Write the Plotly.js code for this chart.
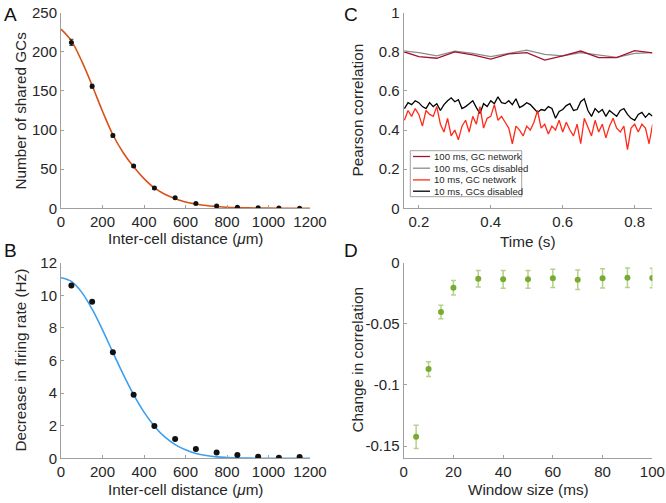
<!DOCTYPE html>
<html>
<head>
<meta charset="utf-8">
<script src="https://cdn.plot.ly/plotly-3.0.1.min.js"></script>
<style>html,body{margin:0;padding:0;background:#fff;}#chart{width:666px;height:503px;}</style>
</head>
<body>
<div id="chart"></div>
<script>
// ---------- Panel A: shared GCs vs distance ----------
const distPts = [50,150,250,350,450,550,650,750,850,950,1050,1150];
const sharedGCs = [212,156,93,54,26,13.5,6,3,1.5,0.6,0.4,0.2];
const sharedErr = [4,2.5,2,1.5,1.5,1.2,1,1,0.8,0.5,0.5,0.5];
const fitDist = [0,50,100,150,200,250,300,350,400,450,500,550,600,650,700,750,800,850,900,950,1000,1050,1100,1150,1200];
const sharedFit = [229,214,188,157,124,94,71,53,38,26,18,12.5,8,5.5,3.5,2.3,1.4,0.9,0.5,0.3,0.2,0.1,0.05,0.02,0];

// ---------- Panel B: decrease in firing rate ----------
const rateDec = [10.6,9.6,6.5,3.9,1.98,1.19,0.57,0.35,0.2,0.1,0.04,0.08];
const rateFit = [11.08,10.85,10.18,9.15,7.88,6.5,5.15,3.9,2.83,1.97,1.31,0.84,0.52,0.3,0.17,0.09,0.05,0.02,0.01,0,0,0,0,0,0];

// ---------- Panel C: Pearson correlation over time ----------
const time100 = [0.15,0.2,0.25,0.3,0.35,0.4,0.45,0.5,0.55,0.6,0.65,0.7,0.75,0.8,0.85];
const corr100GC = [0.805,0.775,0.767,0.80,0.784,0.763,0.789,0.796,0.758,0.779,0.804,0.77,0.77,0.806,0.795];
const corr100Dis = [0.806,0.796,0.779,0.804,0.792,0.775,0.792,0.809,0.787,0.779,0.796,0.784,0.772,0.792,0.796];
const time10 = [0.16,0.17,0.18,0.19,0.20,0.21,0.22,0.23,0.24,0.25,0.26,0.27,0.28,0.29,0.30,0.31,0.32,0.33,0.34,0.35,
  0.36,0.37,0.38,0.39,0.40,0.41,0.42,0.43,0.44,0.45,0.46,0.47,0.48,0.49,0.50,0.51,0.52,0.53,0.54,0.55,
  0.56,0.57,0.58,0.59,0.60,0.61,0.62,0.63,0.64,0.65,0.66,0.67,0.68,0.69,0.70,0.71,0.72,0.73,0.74,0.75,
  0.76,0.77,0.78,0.79,0.80,0.81,0.82,0.83,0.84,0.85];
const corr10Dis = [0.51,0.54,0.53,0.55,0.54,0.52,0.51,0.54,0.52,0.535,0.50,0.53,0.55,0.565,0.545,0.555,0.51,0.52,0.535,0.55,
  0.515,0.485,0.535,0.52,0.55,0.535,0.57,0.54,0.535,0.55,0.53,0.56,0.515,0.525,0.54,0.53,0.51,0.49,0.505,0.50,
  0.52,0.51,0.46,0.495,0.505,0.525,0.535,0.50,0.505,0.545,0.56,0.50,0.47,0.51,0.49,0.505,0.47,0.50,0.485,0.47,
  0.50,0.51,0.48,0.46,0.45,0.48,0.49,0.465,0.485,0.47];
const corr10GC = [0.45,0.50,0.47,0.51,0.48,0.42,0.50,0.48,0.47,0.52,0.43,0.39,0.46,0.37,0.40,0.35,0.42,0.45,0.39,0.47,
  0.43,0.52,0.41,0.46,0.47,0.53,0.45,0.47,0.44,0.41,0.33,0.42,0.40,0.37,0.42,0.40,0.44,0.50,0.41,0.43,
  0.38,0.42,0.40,0.45,0.39,0.44,0.40,0.37,0.43,0.33,0.46,0.41,0.37,0.45,0.39,0.43,0.36,0.42,0.46,0.41,
  0.39,0.42,0.30,0.41,0.43,0.39,0.43,0.41,0.33,0.43];
const legendLabels = ["100 ms, GC network","100 ms, GCs disabled","10 ms, GC network","10 ms, GCs disabled"];

// ---------- Panel D: change in correlation ----------
const windowSize = [5,10,15,20,30,40,50,60,70,80,90,100];
const corrChange = [-0.1424,-0.087,-0.0404,-0.0205,-0.0131,-0.0136,-0.0136,-0.0128,-0.0139,-0.0128,-0.0123,-0.0125];
const corrChangeErr = [0.0095,0.006,0.0055,0.006,0.0067,0.0072,0.0072,0.0075,0.008,0.0078,0.008,0.008];

// ---------- styling ----------
const W = 666, H = 503;
const FONT = "Liberation Sans, Arial, Helvetica, sans-serif";
const TXT = "#262626";
const AXC = "#a0a0a0";
const colA = "#D95319", colB = "#3c9ff0", colD = "#77AC30";
const colC = ["#A2142F", "#8c8c8c", "#ff2a1a", "#000000"];
const px = v => v / W;
const py = v => 1 - v / H;

const leftDom = [px(61), px(310)];
const rightDom = [px(403.7), px(652.3)];
const topDom = [py(208.3), py(12.7)];
const botDom = [py(458.3), py(262.7)];

function axis(extra) {
  return Object.assign({
    showgrid: false, zeroline: false, showline: true, linecolor: AXC, linewidth: 1,
    ticks: "inside", ticklen: 3, tickcolor: AXC, tickwidth: 1,
    tickfont: {family: FONT, size: 15, color: TXT}, automargin: false, fixedrange: true
  }, extra);
}

const traces = [
  {x: fitDist, y: sharedFit, xaxis: "x", yaxis: "y", mode: "lines", line: {color: colA, width: 1.6, shape: "spline"}, showlegend: false, hoverinfo: "skip"},
  {x: distPts, y: sharedGCs, xaxis: "x", yaxis: "y", mode: "markers", marker: {color: "#111", size: 5},
   error_y: {type: "data", array: sharedErr, visible: true, color: "#333", thickness: 1, width: 2}, showlegend: false},
  {x: fitDist, y: rateFit, xaxis: "x3", yaxis: "y3", mode: "lines", line: {color: colB, width: 1.6, shape: "spline"}, showlegend: false},
  {x: distPts, y: rateDec, xaxis: "x3", yaxis: "y3", mode: "markers", marker: {color: "#111", size: 6}, showlegend: false},
  {x: time10, y: corr10Dis, xaxis: "x2", yaxis: "y2", mode: "lines", line: {color: colC[3], width: 1.3}, showlegend: false},
  {x: time10, y: corr10GC, xaxis: "x2", yaxis: "y2", mode: "lines", line: {color: colC[2], width: 1.3}, showlegend: false},
  {x: time100, y: corr100Dis, xaxis: "x2", yaxis: "y2", mode: "lines", line: {color: colC[1], width: 1.3}, showlegend: false},
  {x: time100, y: corr100GC, xaxis: "x2", yaxis: "y2", mode: "lines", line: {color: colC[0], width: 1.3}, showlegend: false},
  {x: windowSize, y: corrChange, xaxis: "x4", yaxis: "y4", mode: "markers", marker: {color: colD, size: 6},
   error_y: {type: "data", array: corrChangeErr, visible: true, color: "rgba(119,172,48,0.55)", thickness: 1.5, width: 2.5}, showlegend: false}
];

// manual legend for panel C
const legBox = {x0: 410.3, x1: 521.7, y0: 150.7, y1: 196.7};
const legRows = [156.5, 168.2, 179.9, 191.2];
const shapes = [{type: "rect", xref: "paper", yref: "paper", x0: px(legBox.x0), x1: px(legBox.x1), y0: py(legBox.y1), y1: py(legBox.y0),
  line: {color: "#8a8a8a", width: 0.8}, fillcolor: "#ffffff", layer: "above"}];
const annotations = [];
legendLabels.forEach((lab, i) => {
  shapes.push({type: "line", xref: "paper", yref: "paper", x0: px(413), x1: px(430), y0: py(legRows[i]), y1: py(legRows[i]),
    line: {color: colC[i], width: 1.3}, layer: "above"});
  annotations.push({xref: "paper", yref: "paper", x: px(431.5), y: py(legRows[i]), xanchor: "left", yanchor: "middle",
    text: lab, showarrow: false, font: {family: FONT, size: 9.6, color: TXT}});
});

function label(text, x, y, size, angle) {
  annotations.push({xref: "paper", yref: "paper", x: px(x), y: py(y), xanchor: "center", yanchor: "middle",
    text: text, showarrow: false, textangle: angle || 0, font: {family: FONT, size: size, color: angle === undefined ? "#111" : TXT}});
}
// panel letters
label("A", 10, 14, 19);
label("B", 10, 250, 19);
label("C", 351, 14, 19);
label("D", 351, 250, 19);
// axis titles
label("Inter-cell distance (<i>μ</i>m)", 185.5, 239, 15.3, 0);
label("Number of shared GCs", 20, 110.5, 15.3, -90);
label("Inter-cell distance (<i>μ</i>m)", 185.5, 489, 15.3, 0);
label("Decrease in firing rate (Hz)", 20, 360.5, 15.3, -90);
label("Time (s)", 528, 241, 15.3, 0);
label("Pearson correlation", 357, 110.5, 15.3, -90);
label("Window size (ms)", 528, 489, 15.3, 0);
label("Change in correlation", 357, 360.5, 15.3, -90);

const layout = {
  width: W, height: H, margin: {l: 0, r: 0, t: 0, b: 0, pad: 0},
  paper_bgcolor: "#fff", plot_bgcolor: "#fff", showlegend: false,
  font: {family: FONT, color: TXT},
  xaxis: axis({domain: leftDom, anchor: "y", range: [0, 1200], tickvals: [0,200,400,600,800,1000,1200]}),
  yaxis: axis({domain: topDom, anchor: "x", range: [0, 250], tickvals: [0,50,100,150,200,250]}),
  xaxis2: axis({domain: rightDom, anchor: "y2", range: [0.158, 0.849], tickvals: [0.2,0.4,0.6,0.8]}),
  yaxis2: axis({domain: topDom, anchor: "x2", range: [0, 1], tickvals: [0,0.2,0.4,0.6,0.8,1]}),
  xaxis3: axis({domain: leftDom, anchor: "y3", range: [0, 1200], tickvals: [0,200,400,600,800,1000,1200]}),
  yaxis3: axis({domain: botDom, anchor: "x3", range: [0, 12], tickvals: [0,2,4,6,8,10,12]}),
  xaxis4: axis({domain: rightDom, anchor: "y4", range: [0, 100], tickvals: [0,20,40,60,80,100]}),
  yaxis4: axis({domain: botDom, anchor: "x4", range: [-0.16, 0], tickvals: [0,-0.05,-0.1,-0.15], ticktext: ["0","-0.05","-0.1","-0.15"]}),
  shapes: shapes, annotations: annotations
};

Plotly.newPlot("chart", traces, layout, {displayModeBar: false, staticPlot: true});
</script>
</body>
</html>
